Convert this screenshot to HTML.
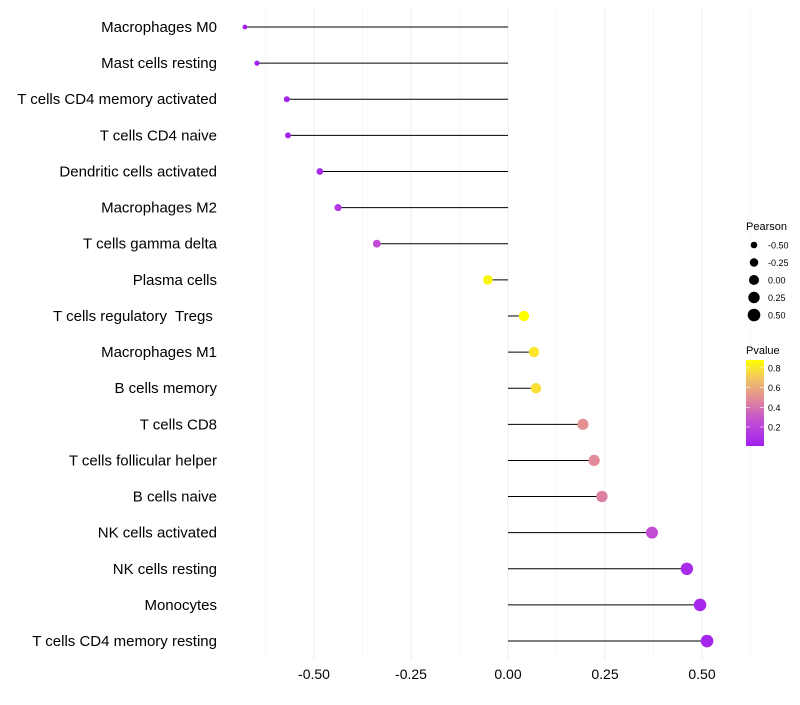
<!DOCTYPE html>
<html><head><meta charset="utf-8"><style>
body{margin:0;background:#fff;font-family:"Liberation Sans",sans-serif}
text{white-space:pre}
</style></head><body>
<svg id="c" width="800" height="700" xmlns="http://www.w3.org/2000/svg" font-family="Liberation Sans, sans-serif" xml:space="preserve"></svg>
<script>
const categories=["Macrophages M0","Mast cells resting","T cells CD4 memory activated","T cells CD4 naive","Dendritic cells activated","Macrophages M2","T cells gamma delta","Plasma cells","T cells regulatory  Tregs ","Macrophages M1","B cells memory","T cells CD8","T cells follicular helper","B cells naive","NK cells activated","NK cells resting","Monocytes","T cells CD4 memory resting"];
const pearson=[-0.678,-0.647,-0.570,-0.567,-0.485,-0.438,-0.338,-0.052,0.041,0.067,0.072,0.193,0.222,0.242,0.371,0.461,0.495,0.513];
const pvalues=[0.01,0.02,0.03,0.03,0.06,0.12,0.25,0.85,0.88,0.8,0.78,0.5,0.48,0.44,0.25,0.08,0.05,0.04];
const xTicks=[-0.5,-0.25,0,0.25,0.5];
const xTickLabels=["-0.50","-0.25","0.00","0.25","0.50"];
const sizeBreaks=[-0.5,-0.25,0,0.25,0.5];
const sizeLabels=["-0.50","-0.25","0.00","0.25","0.50"];
const pBreaks=[0.2,0.4,0.6,0.8];
const pLabels=["0.2","0.4","0.6","0.8"];

const svg=document.getElementById('c');const NS="http://www.w3.org/2000/svg";
function mk(t,a,p){const e=document.createElementNS(NS,t);for(const k in a)e.setAttribute(k,a[k]);(p||svg).appendChild(e);return e;}
const x=v=>508+v*388;
const y=i=>27+i*36.12;
const r=v=>Math.sqrt(Math.max(2,25.3+28.8*v));
const stops=[[0,[160,32,240]],[0.3,[196,80,210]],[0.55,[226,140,150]],[0.78,[242,196,100]],[1,[255,255,0]]];
function col(p){let t=(p-0.007)/(0.88-0.007);t=Math.max(0,Math.min(1,t));
for(let i=1;i<stops.length;i++){if(t<=stops[i][0]){const a=stops[i-1],b=stops[i];const f=(t-a[0])/(b[0]-a[0]);
return 'rgb('+a[1].map((c,j)=>Math.round(c+(b[1][j]-c)*f)).join(',')+')';}}return 'rgb(255,255,0)';}
const g=mk('g',{});
[-0.625,-0.375,-0.125,0.125,0.375,0.625].forEach(v=>mk('line',{x1:x(v),x2:x(v),y1:8,y2:660,stroke:'#f4f4f4','stroke-width':0.6},g));
xTicks.forEach(v=>mk('line',{x1:x(v),x2:x(v),y1:8,y2:660,stroke:'#ededed','stroke-width':1},g));
xTicks.forEach((v,i)=>{const t=mk('text',{x:x(v),y:679,'text-anchor':'middle','font-size':14,fill:'#000'});t.textContent=xTickLabels[i];
});
categories.forEach((c,i)=>{const t=mk('text',{x:217,y:y(i)+5,'text-anchor':'end','font-size':15,fill:'#000'});t.textContent=c;
});
categories.forEach((c,i)=>{const l=mk('line',{x1:x(0),x2:x(pearson[i]),y1:y(i),y2:y(i),stroke:'#000','stroke-width':1});

const p=mk('circle',{cx:x(pearson[i]),cy:y(i),r:r(pearson[i]),fill:col(pvalues[i])});
});
let t=mk('text',{x:746,y:230,'font-size':11,fill:'#000'});t.textContent='Pearson';

sizeBreaks.forEach((v,i)=>{const cy=245+i*17.5;const c=mk('circle',{cx:754,cy:cy,r:r(v),fill:'#000'});

const tt=mk('text',{x:768,y:cy+3.5,'font-size':9,fill:'#000'});tt.textContent=sizeLabels[i];
});
t=mk('text',{x:746,y:354,'font-size':11,fill:'#000'});t.textContent='Pvalue';

const defs=mk('defs',{});const lg=mk('linearGradient',{id:'pg',x1:0,y1:1,x2:0,y2:0},defs);
stops.forEach(s=>mk('stop',{offset:s[0],'stop-color':'rgb('+s[1].join(',')+')'},lg));
const bar=mk('rect',{x:746,y:360,width:18,height:86,fill:'url(#pg)'});

const py=p=>446-(p-0.007)/(0.88-0.007)*86;
pBreaks.forEach((p,i)=>{mk('line',{x1:746,x2:750,y1:py(p),y2:py(p),stroke:'#fff','stroke-width':0.6});mk('line',{x1:760,x2:764,y1:py(p),y2:py(p),stroke:'#fff','stroke-width':0.6});
const tt=mk('text',{x:768,y:py(p)+3.5,'font-size':9,fill:'#000'});tt.textContent=pLabels[i];
});
</script>
</body></html>
